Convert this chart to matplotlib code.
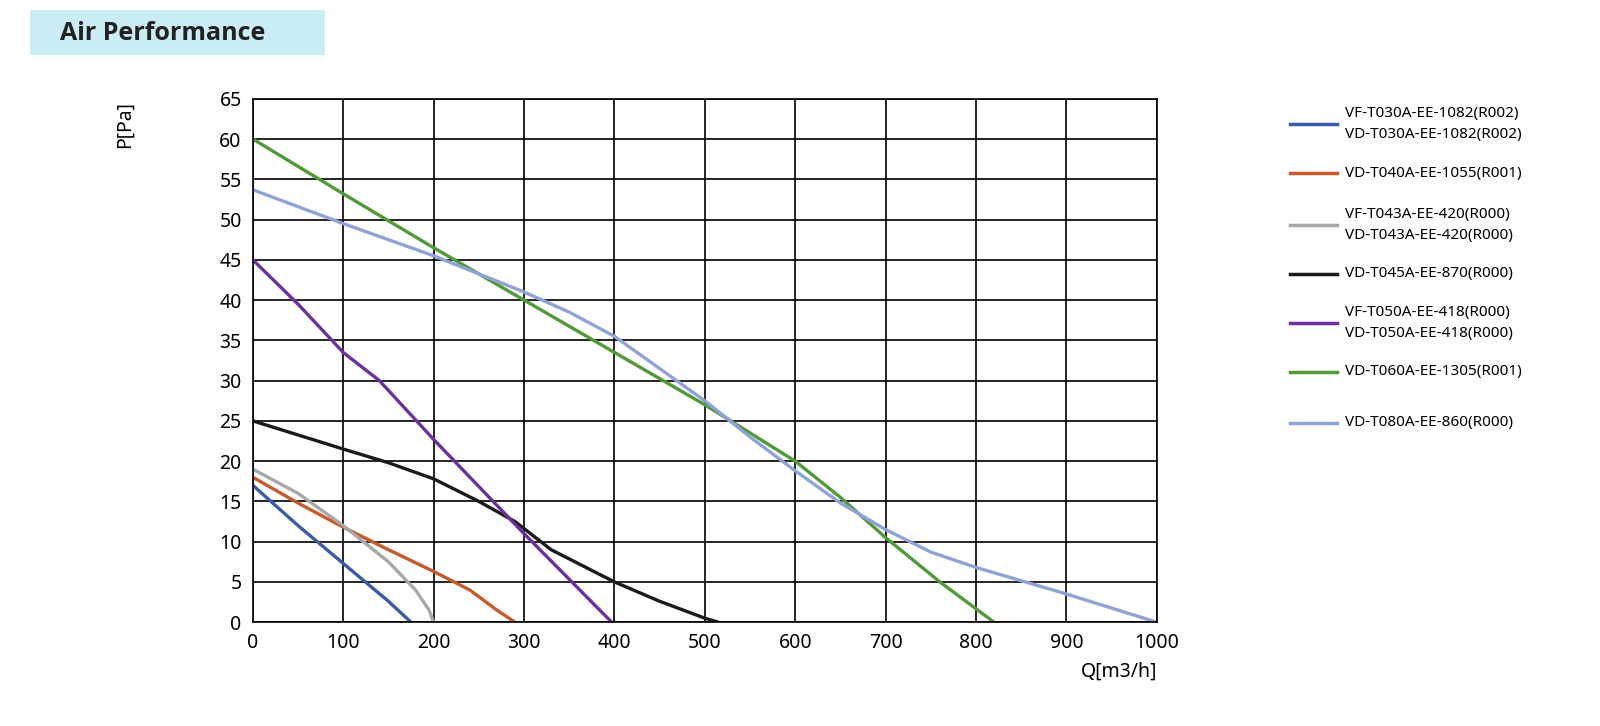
import matplotlib
matplotlib.use("Agg")
import matplotlib.pyplot as plt
from matplotlib.patches import Rectangle
from matplotlib.lines import Line2D

labels = ["VF-T030A-EE-1082(R002)\nVD-T030A-EE-1082(R002)",
          "VD-T040A-EE-1055(R001)",
          "VF-T043A-EE-420(R000)\nVD-T043A-EE-420(R000)",
          "VD-T045A-EE-870(R000)",
          "VF-T050A-EE-418(R000)\nVD-T050A-EE-418(R000)",
          "VD-T060A-EE-1305(R001)",
          "VD-T080A-EE-860(R000)"]
colors = ["#3a5ca8", "#c8592a", "#a8a8a8", "#1a1a1a", "#6b30a0", "#509a3a", "#8fa3d6"]

q1 = [0, 50, 100, 150, 175]; p1 = [17, 12, 7.3, 2.6, 0]
q2 = [0, 50, 100, 150, 200, 240, 270, 290]; p2 = [18, 14.8, 11.8, 9, 6.3, 4, 1.5, 0]
q3 = [0, 50, 100, 150, 180, 195, 200]; p3 = [19, 16, 12, 7.5, 4, 1.5, 0]
q4 = [0, 100, 150, 200, 250, 290, 330, 400, 450, 500, 515]; p4 = [25, 21.5, 19.8, 17.8, 15, 12.5, 9, 5, 2.6, 0.5, 0]
q5 = [0, 50, 100, 140, 200, 300, 397]; p5 = [45, 39.5, 33.5, 30, 22.7, 11, 0]
q6 = [0, 100, 200, 300, 400, 500, 600, 650, 700, 760, 820]; p6 = [60, 53.2, 46.5, 40, 33.5, 27, 20, 15.5, 10.5, 5, 0]
q7 = [0, 100, 200, 300, 350, 400, 450, 500, 550, 600, 650, 700, 750, 800, 900, 1000]
p7 = [53.7, 49.5, 45.5, 41, 38.5, 35.5, 31.5, 27.5, 23, 18.8, 14.8, 11.5, 8.7, 6.8, 3.5, 0]
series = [(q1, p1), (q2, p2), (q3, p3), (q4, p4), (q5, p5), (q6, p6), (q7, p7)]

plt.rcParams['font.family'] = ['Noto Sans', 'DejaVu Sans']
fig = plt.figure(figsize=(16, 7.26), dpi=100)
ax = fig.add_axes([0.158, 0.143, 0.565, 0.721])
for (q, p), c in zip(series, colors):
    ax.plot(q, p, color=c, lw=2.4)
ax.set_xlim(0, 1000); ax.set_ylim(0, 65)
ax.set_xticks(range(0, 1001, 100)); ax.set_yticks(range(0, 66, 5))
ax.grid(True, color='black', lw=1.2)
for s in ax.spines.values():
    s.set_linewidth(1.2)
ax.tick_params(length=0, labelsize=14, pad=8)
ax.set_xlabel("Q[m3/h]", fontsize=14, ha='right'); ax.xaxis.set_label_coords(1.0, -0.075)
ax.set_ylabel("P[Pa]", fontsize=14); ax.yaxis.set_label_coords(-0.13, 0.95)

fig.patches.append(Rectangle((30/1600, 1-55/726), 295/1600, 45/726, transform=fig.transFigure,
                             facecolor='#c9ecf5', edgecolor='none'))
fig.text(60/1600, 1-33/726, "Air Performance", fontsize=18, fontweight='bold',
         family=['Open Sans', 'DejaVu Sans'], va='center', color='#222222')

ys = [124, 173, 225, 274, 323, 372, 423]
for y, c, l in zip(ys, colors, labels):
    fy = 1 - y/726
    fig.add_artist(Line2D([1290/1600, 1337/1600], [fy, fy], color=c, lw=2.5, transform=fig.transFigure))
    fig.text(1345/1600, fy, l, fontsize=11, va='center', linespacing=1.6)

fig.savefig("out.png", dpi=100, facecolor='white')
